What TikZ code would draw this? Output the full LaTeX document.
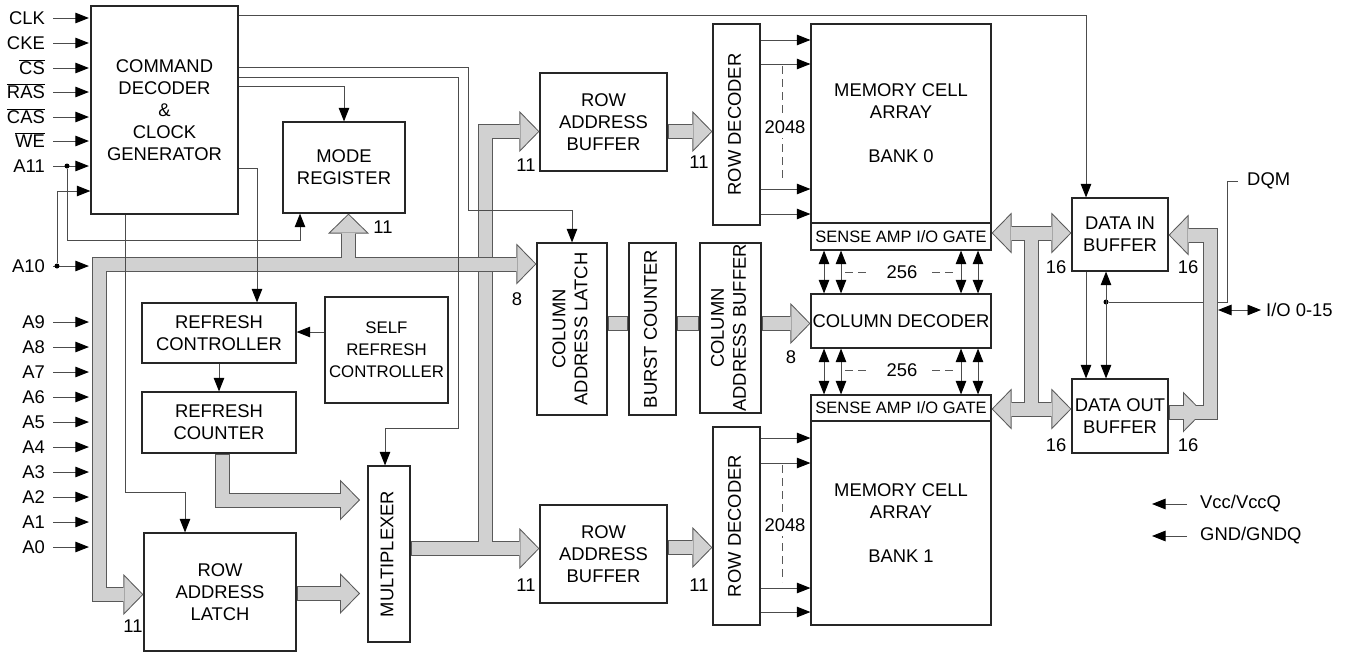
\documentclass[tikz,border=0pt]{standalone}
\usepackage{fontspec}
\setmainfont{Liberation Sans}
\usepackage{graphicx}
\usetikzlibrary{arrows.meta}

\newcommand\dgfont{\fontsize{18.4}{22}\selectfont}
\newcommand\sensefont{\fontsize{16.5}{20}\selectfont}
\newcommand\selffont{\fontsize{16.8}{22}\selectfont}
\newcommand\vtext[1]{\rotatebox{90}{\begin{tabular}{@{}c@{}}#1\end{tabular}}}

\begin{document}
\begin{tikzpicture}[
  x=1pt, y=-1pt,
  font=\dgfont,
  >={Triangle[length=13.5pt,width=10.5pt,color=black]},
  blk/.style={draw=black!85, line width=1.2pt, inner sep=0pt, align=center},
  sig/.style={draw=black!70, line width=0.9pt, ->},
  wire/.style={draw=black!70, line width=0.9pt},
  dashln/.style={draw=black!65, line width=1pt, dash pattern=on 8pt off 5pt},
  busout/.style={draw=black!65, line width=15pt, line join=miter,
    >={Triangle[length=20pt,width=41pt,line width=0pt]}},
  busin/.style={draw=black!18, line width=13pt, line join=miter,
    shorten <=1.4pt, shorten >=1.4pt,
    >={Triangle[length=17.6pt,width=36pt,line width=0pt]}},
  dot/.style={circle, fill=black, inner sep=0pt, minimum size=5pt},
  txt/.style={inner sep=0pt},
  pin/.style={anchor=base east, inner sep=0pt}
]
\path[use as bounding box, fill=white] (0,0) rectangle (1349,653);

\node[blk, minimum width=147pt, minimum height=208pt] (cmd) at (164.5,110) {COMMAND\\DECODER\\\&\\CLOCK\\GENERATOR};
\node[blk, minimum width=122pt, minimum height=91pt] (modereg) at (344,167.5) {MODE\\REGISTER};
\node[blk, minimum width=154pt, minimum height=60pt] (rctl) at (219,333) {REFRESH\\CONTROLLER};
\node[blk, minimum width=123pt, minimum height=106pt, font=\selffont] (self) at (386.5,350) {SELF\\REFRESH\\CONTROLLER};
\node[blk, minimum width=154pt, minimum height=61pt] (rcnt) at (219,422.5) {REFRESH\\COUNTER};
\node[blk, minimum width=152pt, minimum height=118pt] (ral) at (220,592) {ROW\\ADDRESS\\LATCH};
\node[blk, minimum width=42pt, minimum height=176pt] (mux) at (389,554) {\vtext{MULTIPLEXER}};
\node[blk, minimum width=127pt, minimum height=98pt] (rab0) at (603.5,122) {ROW\\ADDRESS\\BUFFER};
\node[blk, minimum width=127pt, minimum height=98pt] (rab1) at (603.5,554) {ROW\\ADDRESS\\BUFFER};
\node[blk, minimum width=47pt, minimum height=201pt] (rd0) at (736.5,124.5) {\vtext{ROW DECODER}};
\node[blk, minimum width=47pt, minimum height=198pt] (rd1) at (736.5,526) {\vtext{ROW DECODER}};
\node[blk, minimum width=70pt, minimum height=172pt] (cal) at (572,329) {\vtext{COLUMN\\ADDRESS LATCH}};
\node[blk, minimum width=47pt, minimum height=172pt] (bc) at (652.5,329) {\vtext{BURST COUNTER}};
\node[blk, minimum width=61pt, minimum height=170pt] (cab) at (730.5,328) {\vtext{COLUMN\\ADDRESS BUFFER}};
\node[blk, minimum width=180pt, minimum height=199pt] (mca0) at (901,123.5) {MEMORY CELL\\ARRAY\\[22pt]BANK 0};
\node[blk, minimum width=180pt, minimum height=27pt, font=\sensefont] (sa0) at (901,236.5) {SENSE AMP I/O GATE};
\node[blk, minimum width=180pt, minimum height=54pt] (cd) at (901,321) {COLUMN DECODER};
\node[blk, minimum width=180pt, minimum height=26pt, font=\sensefont] (sa1) at (901,408) {SENSE AMP I/O GATE};
\node[blk, minimum width=180pt, minimum height=204pt] (mca1) at (901,523) {MEMORY CELL\\ARRAY\\[22pt]BANK 1};
\node[blk, minimum width=96pt, minimum height=73pt] (din) at (1120,234.5) {DATA IN\\BUFFER};
\node[blk, minimum width=96pt, minimum height=74pt] (dout) at (1120,416) {DATA OUT\\BUFFER};

\node[dot] (dqmdot) at (1106,302) {};
\node[txt, anchor=west] (dqm) at (1247,181) {DQM};
\draw[wire] (dqmdot) -| (1227,181) -- (1238,181);

\coordinate (mbus) at (485.5,548.5);
\coordinate (abus) at (99,264);
\coordinate (mrbus) at (348.5,264);
\foreach \lay in {busout,busin} {
  \draw[\lay,->] (mux.east |- mbus) -- (mbus) |- (rab0.west |- 0,131.5);
  \draw[\lay,->] (mbus) -- (rab1.west |- mbus);
}
\foreach \lay in {busout,busin} {
  \draw[\lay,<->] (cal.west |- abus) -- (abus) |- (ral.west |- 0,594.5);
  \draw[\lay,->] (mrbus) -- (mrbus |- modereg.south);
}
\foreach \lay in {busout,busin} {
  \draw[\lay,->] (rcnt.south -| 222.5,0) |- (360,500);
  \draw[\lay,->] (ral.east |- 0,593.5) -- (360,593.5);
  \draw[\lay,->] (rab0.east |- 0,131.5) -- (rd0.west |- 0,131.5);
  \draw[\lay,->] (rab1.east |- 0,547.5) -- (rd1.west |- 0,547.5);
  \draw[\lay] (cal.east |- 0,323.5) -- (bc.west |- 0,323.5);
  \draw[\lay] (bc.east |- 0,323.5) -- (cab.west |- 0,323.5);
  \draw[\lay,->] (cab.east |- 0,323.5) -- (cd.west |- 0,323.5);
}
\foreach \lay in {busout,busin} {
  \draw[\lay,<->] (sa0.east |- 0,233) -- (din.west |- 0,233);
  \draw[\lay,<->] (sa1.east |- 0,409) -- (dout.west |- 0,409);
  \draw[\lay] (1031.5,233) -- (1031.5,409);
}
\foreach \lay in {busout,busin} {
  \draw[\lay,->] (dout.east |- 0,412) -- (1210,412) -- (1210,235) -- (din.east |- 0,235);
  \draw[\lay,->] (dout.east |- 0,412) -- (1203,412);
}

\foreach \t/\y in {CLK/18, CKE/43, $\overline{\mbox{CS}}$/68, $\overline{\mbox{RAS}}$/92,
    $\overline{\mbox{CAS}}$/117, $\overline{\mbox{WE}}$/141, A11/166, A10/266,
    A9/322, A8/347, A7/372, A6/397, A5/422, A4/447, A3/472, A2/497, A1/522, A0/547} {
  \node[pin] (in\y) at (45,\y+6.6) {\t};
  \draw[sig, shorten >=1.5pt] ([shift={(8pt,6.6pt)}]in\y.base east) -- (cmd.west |- 0,\y);
}
\node[dot] (a11dot) at (67,166) {};
\node[dot] (a10dot) at (57,266) {};
\draw[sig] (a11dot) |- (300,240) -- (modereg.south -| 300,0);
\draw[sig] (a10dot) |- (cmd.west |- 0,191);

\draw[sig] (cmd.east |- 0,15) -| (din.north -| 1086,0);
\draw[sig] (cmd.east |- 0,67) -- (468,67) |- (cal.north |- 0,210) -- (cal.north);
\draw[sig] (cmd.east |- 0,77) -- (458,77) |- (385,428) -- (mux.north -| 385,0);
\draw[sig] (cmd.east |- 0,86) -| (modereg.north);
\draw[sig] (cmd.east |- 0,168) -| (rctl.north -| 257,0);
\draw[sig] (cmd.south -| 125,0) |- (185,492) -- (ral.north -| 185,0);
\draw[sig] (self.west |- 0,332) -- (rctl.east |- 0,332);
\draw[sig] (rctl.south) -- (rcnt.north);

\foreach \y in {40,64,189,214} \draw[sig] (rd0.east |- 0,\y) -- (mca0.west |- 0,\y);
\foreach \y in {438,463,588,612} \draw[sig] (rd1.east |- 0,\y) -- (mca1.west |- 0,\y);
\draw[dashln] (782,66) -- (782,182);
\draw[dashln] (782,465) -- (782,582);
\node[txt, fill=white, inner ysep=4pt] (n2048a) at (785,127) {2048};
\node[txt, fill=white, inner ysep=4pt] (n2048b) at (785,525) {2048};

\foreach \x in {824,841,961,978} {
  \draw[sig,<->] (sa0.south -| \x,0) -- (cd.north -| \x,0);
  \draw[sig,<->] (cd.south -| \x,0) -- (sa1.north -| \x,0);
}
\foreach \y in {272,370} {
  \draw[dashln] (845,\y) -- (869,\y);
  \draw[dashln] (932,\y) -- (957,\y);
}
\node[txt] (n256a) at (902,272) {256};
\node[txt] (n256b) at (902,370) {256};

\draw[sig] (din.south -| 1086,0) -- (dout.north -| 1086,0);
\draw[sig,<->] (din.south -| dqmdot) -- (dout.north -| dqmdot);

\node[txt, anchor=west] (io) at (1266,310) {I/O 0-15};
\draw[sig,<->] (1218,310) -- ([xshift=-5pt]io.west);
\node[txt, anchor=west] (vcc) at (1200,504) {Vcc/VccQ};
\node[txt, anchor=west] (gnd) at (1200,536) {GND/GNDQ};
\draw[sig] ([xshift=-13pt]vcc.west) -- ++(-35,0);
\draw[sig] ([xshift=-13pt]gnd.west) -- ++(-35,0);

\node[txt] (w11a) at (383,227) {11};
\node[txt] (w11b) at (133,626) {11};
\node[txt] (w8a) at (517,299) {8};
\node[txt] (w11c) at (526,165) {11};
\node[txt] (w11d) at (699,162) {11};
\node[txt] (w11e) at (526,585) {11};
\node[txt] (w11f) at (699,585) {11};
\node[txt] (w8b) at (791,357) {8};
\node[txt] (w16a) at (1056,267) {16};
\node[txt] (w16b) at (1188,267) {16};
\node[txt] (w16c) at (1056,445) {16};
\node[txt] (w16d) at (1188,445) {16};
\end{tikzpicture}
\end{document}
